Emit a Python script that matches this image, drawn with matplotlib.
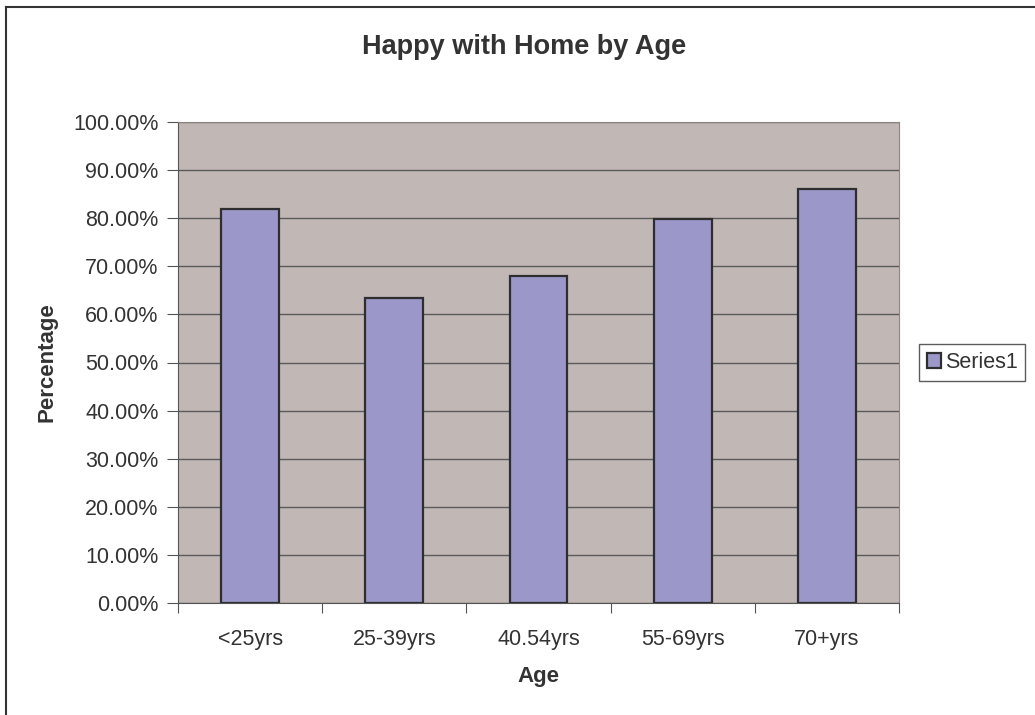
import matplotlib.pyplot as plt
from matplotlib.lines import Line2D
from matplotlib.ticker import FuncFormatter, FixedLocator

plt.rcParams['font.family'] = ['Liberation Sans', 'DejaVu Sans']

# data
categories = ["<25yrs", "25-39yrs", "40.54yrs", "55-69yrs", "70+yrs"]
series1 = [0.820, 0.634, 0.679, 0.798, 0.861]

W, H = 1035, 715
fig = plt.figure(figsize=(W / 100, H / 100), dpi=100)
fig.patch.set_facecolor('white')

# outer chart border (only left and top edges are inside the image)
fig.add_artist(Line2D([6 / W, 6 / W], [0, 1 - 7 / H], transform=fig.transFigure,
                      color='#333333', linewidth=1.5))
fig.add_artist(Line2D([6 / W, 1], [1 - 7 / H, 1 - 7 / H], transform=fig.transFigure,
                      color='#333333', linewidth=1.5))

ax = fig.add_axes([178 / W, 112 / H, 721 / W, 481 / H])
ax.set_facecolor('#C1B8B5')

x = list(range(len(categories)))
ax.bar(x, series1, width=0.4, color='#9C97C9', edgecolor='#2E2E2E',
       linewidth=1.6, zorder=3, label='Series1')

ax.set_xlim(-0.5, len(categories) - 0.5)
ax.set_ylim(0, 1.0)
ax.set_yticks([i / 10 for i in range(11)])
ax.yaxis.set_major_formatter(FuncFormatter(lambda v, p: f"{v * 100:.2f}%"))
ax.grid(axis='y', color='#5A5A5A', linewidth=1.0, zorder=1)

# category labels centred, ticks at category boundaries
ax.xaxis.set_major_locator(FixedLocator([i - 0.5 for i in range(len(categories) + 1)]))
ax.xaxis.set_major_formatter(FuncFormatter(lambda v, p: ""))
ax.xaxis.set_minor_locator(FixedLocator(x))
ax.set_xticklabels(categories, minor=True)
ax.tick_params(axis='x', which='minor', length=0, pad=19, labelsize=15.5,
               labelcolor='#333333')
ax.tick_params(axis='x', which='major', length=7, color='#555555')
ax.tick_params(axis='y', length=8, color='#555555', labelsize=15.5, pad=6,
               labelcolor='#333333')

for side in ['top', 'right']:
    ax.spines[side].set_color('#8C8480')
for side in ['left', 'bottom']:
    ax.spines[side].set_color('#555555')

ax.set_xlabel("Age", fontsize=16, fontweight='bold', labelpad=11, color='#333333')
ax.set_ylabel("Percentage", fontsize=16, fontweight='bold', labelpad=11, color='#333333')
fig.text(524.5 / W, 1 - 47 / H, "Happy with Home by Age", ha='center', va='center',
         fontsize=19.5, fontweight='bold', color='#333333')

leg = ax.legend(loc='center left', bbox_to_anchor=(919 / W, 1 - 362.5 / H),
                bbox_transform=fig.transFigure, fontsize=15.5,
                frameon=True, fancybox=False, edgecolor='#333333',
                handlelength=0.65, handleheight=0.65, handletextpad=0.2,
                borderpad=0.35, borderaxespad=0)
leg.get_frame().set_linewidth(1.0)
for t in leg.get_texts():
    t.set_color('#333333')

plt.savefig("out.png", dpi=100)
